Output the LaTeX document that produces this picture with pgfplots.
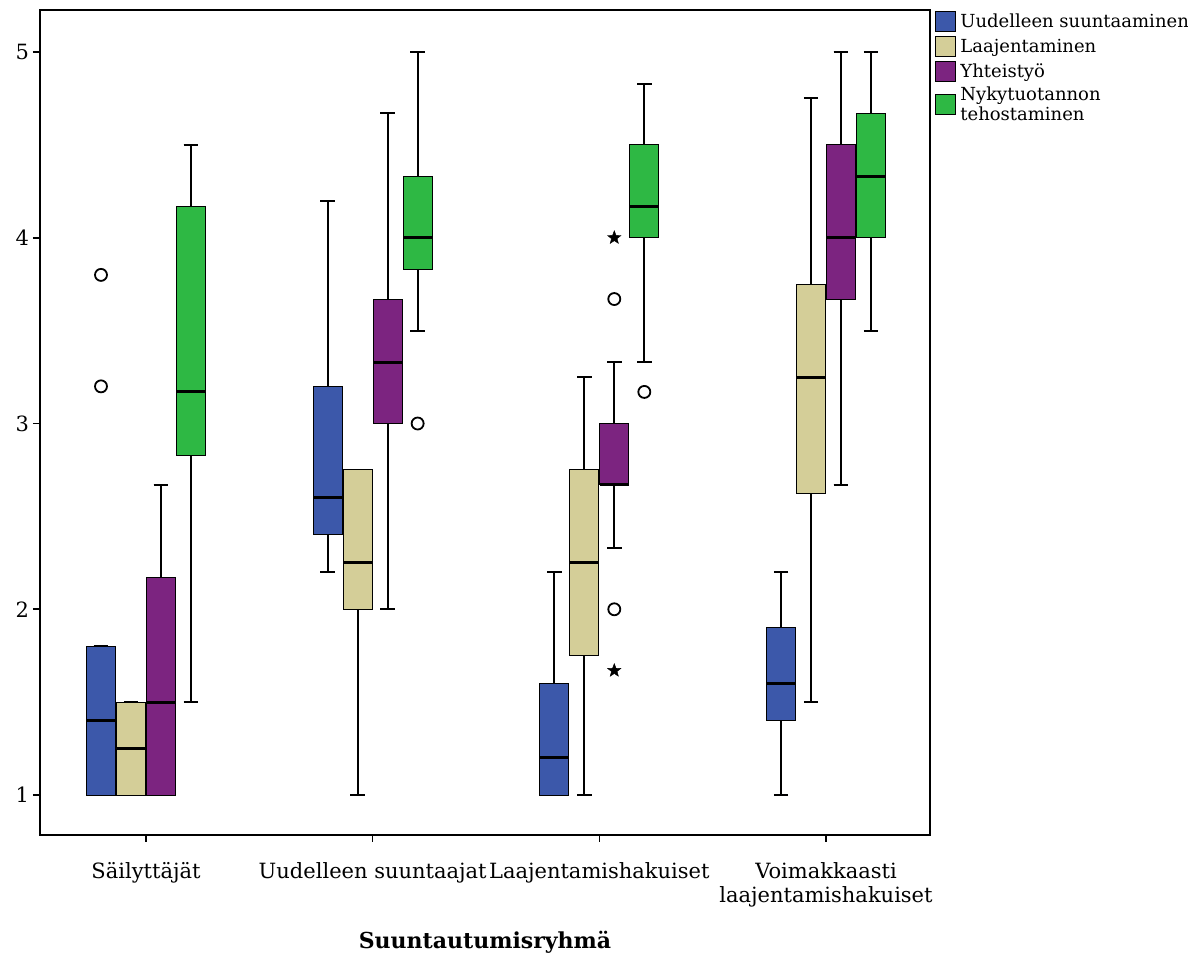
\documentclass[border=0pt]{standalone}
\usepackage{fontspec}
\setmainfont{DejaVu Serif}
\usepackage{pgfplots}
\pgfplotsset{compat=1.18}
\usepgfplotslibrary{statistics}
\definecolor{cblue}{RGB}{60,88,170}
\definecolor{cbeige}{RGB}{212,206,152}
\definecolor{cpurple}{RGB}{124,36,128}
\definecolor{cgreen}{RGB}{46,184,68}
\pgfdeclareplotmark{fstar}{%
  \pgfpathmoveto{\pgfpointpolar{90}{\pgfplotmarksize}}%
  \pgfpathlineto{\pgfpointpolar{126}{0.42\pgfplotmarksize}}%
  \pgfpathlineto{\pgfpointpolar{162}{\pgfplotmarksize}}%
  \pgfpathlineto{\pgfpointpolar{198}{0.42\pgfplotmarksize}}%
  \pgfpathlineto{\pgfpointpolar{234}{\pgfplotmarksize}}%
  \pgfpathlineto{\pgfpointpolar{270}{0.42\pgfplotmarksize}}%
  \pgfpathlineto{\pgfpointpolar{306}{\pgfplotmarksize}}%
  \pgfpathlineto{\pgfpointpolar{342}{0.42\pgfplotmarksize}}%
  \pgfpathlineto{\pgfpointpolar{18}{\pgfplotmarksize}}%
  \pgfpathlineto{\pgfpointpolar{54}{0.42\pgfplotmarksize}}%
  \pgfpathclose\pgfusepathqfillstroke}
% draw position, lw, lq, med, uq, uw, colour
\newcommand\bp[7]{%
  \addplot[forget plot, boxplot prepared={draw position=#1, lower whisker=#2,
    lower quartile=#3, median=#4, upper quartile=#5, upper whisker=#6},
    fill=#7, draw=black] coordinates {};}
\begin{document}
\begin{tikzpicture}
\begin{axis}[
  scale only axis, width=445pt, height=412.5pt,
  at={(20pt,60.5pt)}, anchor=south west,
  xmin=-0.4676, xmax=3.4588, ymin=0.785, ymax=5.226,
  xtick={0,1,2,3},
  xticklabels={S\"ailytt\"aj\"at, Uudelleen suuntaajat, Laajentamishakuiset, {Voimakkaasti\\laajentamishakuiset}},
  ytick={1,2,3,4,5},
  tick align=outside, major tick length=3.5pt,
  xtick pos=bottom, ytick pos=left,
  tick style={black, line width=0.8pt},
  axis line style={line width=0.7pt},
  /pgf/number format/assume math mode=true,
  tick label style={font=\fontsize{10.5}{12}\selectfont},
  xticklabel style={align=center, yshift=-6.5pt},
  yticklabel style={xshift=1.5pt},
  xlabel={\textbf{Suuntautumisryhmä}},
  xlabel style={font=\fontsize{11}{13}\selectfont, yshift=-5.5pt},
  boxplot/draw direction=y,
  boxplot/box extend=0.128,
  boxplot/whisker extend=0.064,
  boxplot/every box/.style={line width=0.5pt},
  boxplot/every whisker/.style={line width=1pt},
  boxplot/every median/.style={line width=1.5pt},
  legend image code/.code={\draw[#1,draw=black,line width=0.5pt] (0pt,-5pt) rectangle (10pt,5pt);},
  legend style={draw=none, fill=none, at={(1,1)}, anchor=north west,
    xshift=2.5pt, yshift=-0.5pt, inner sep=0pt, row sep=2pt,
    font=\fontsize{9}{10}\selectfont,
    cells={anchor=west, align=left}, nodes={inner xsep=2pt, inner ysep=0pt}},
  legend cell align=left,
]
% Group 1: Sailyttajat
\bp{-0.1985}{1}{1}{1.4}{1.8}{1.8}{cblue}
\bp{-0.066}{1}{1}{1.25}{1.5}{1.5}{cbeige}
\bp{0.066}{1}{1}{1.5}{2.17}{2.67}{cpurple}
\bp{0.1985}{1.5}{2.83}{3.17}{4.17}{4.5}{cgreen}
% Group 2: Uudelleen suuntaajat
\bp{0.8015}{2.2}{2.4}{2.6}{3.2}{4.2}{cblue}
\bp{0.934}{1}{2}{2.25}{2.75}{2.75}{cbeige}
\bp{1.066}{2}{3}{3.33}{3.67}{4.67}{cpurple}
\bp{1.1985}{3.5}{3.83}{4}{4.33}{5}{cgreen}
% Group 3: Laajentamishakuiset
\bp{1.8015}{1}{1}{1.2}{1.6}{2.2}{cblue}
\bp{1.934}{1}{1.75}{2.25}{2.75}{3.25}{cbeige}
\bp{2.066}{2.33}{2.67}{2.67}{3}{3.33}{cpurple}
\bp{2.1985}{3.33}{4}{4.17}{4.5}{4.83}{cgreen}
% Group 4: Voimakkaasti laajentamishakuiset
\bp{2.8015}{1}{1.4}{1.6}{1.9}{2.2}{cblue}
\bp{2.934}{1.5}{2.625}{3.25}{3.75}{4.75}{cbeige}
\bp{3.066}{2.67}{3.67}{4}{4.5}{5}{cpurple}
\bp{3.1985}{3.5}{4}{4.33}{4.67}{5}{cgreen}
% outliers (circles)
\addplot[forget plot, only marks, mark=o, mark size=3pt, mark options={line width=0.9pt, black}]
  coordinates {(-0.1985,3.8) (-0.1985,3.2) (1.1985,3.0) (2.066,3.67) (2.066,2.0) (2.1985,3.17)};
% extremes (stars)
\addplot[forget plot, only marks, mark=fstar, mark size=3.5pt, mark options={black, fill=black, line width=0.2pt}]
  coordinates {(2.066,4.0) (2.066,1.67)};
\addlegendimage{fill=cblue}
\addlegendentry{Uudelleen suuntaaminen}
\addlegendimage{fill=cbeige}
\addlegendentry{Laajentaminen}
\addlegendimage{fill=cpurple}
\addlegendentry{Yhteistyö}
\addlegendimage{fill=cgreen}
\addlegendentry{Nykytuotannon\\tehostaminen}
\end{axis}
\pgfresetboundingbox
\useasboundingbox (0,0) rectangle (594pt,478pt);
\end{tikzpicture}
\end{document}
